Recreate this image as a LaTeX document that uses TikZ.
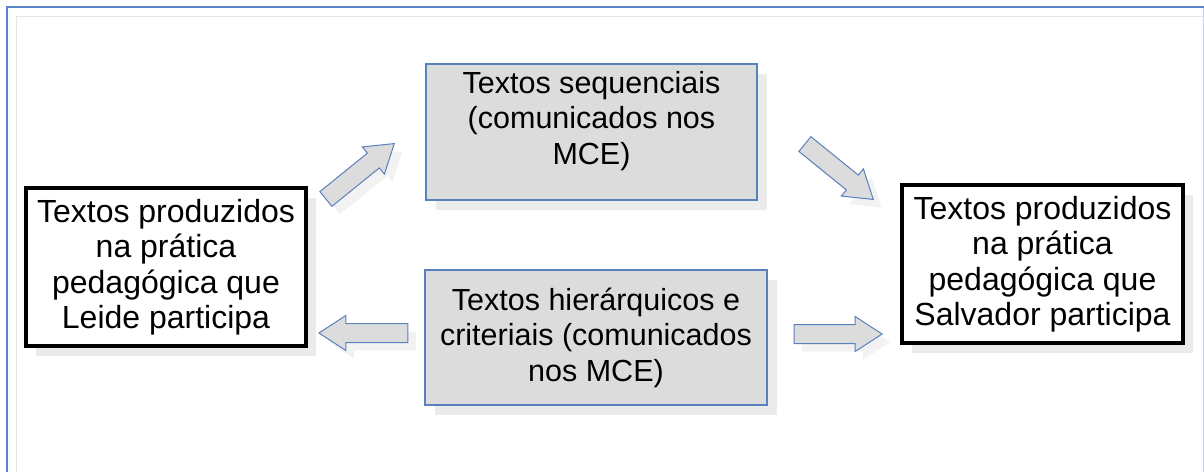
\documentclass[tikz,border=0pt]{standalone}
\usepackage{fontspec}
\setmainfont{Liberation Sans}
\usetikzlibrary{shapes.arrows,shadows,positioning}
\definecolor{frameblue}{HTML}{5A84CC}
\definecolor{boxgray}{HTML}{DCDCDC}
\definecolor{edgeblue}{HTML}{5B80BE}
\newcommand{\boxfont}{\fontsize{30.5}{35.5}\selectfont}
\newcommand{\bigboxfont}{\fontsize{32}{35.5}\selectfont}

\begin{document}
\begin{tikzpicture}[
    x=1pt, y=-1pt,
    textbox/.style={rectangle, draw, line width=3.5pt, fill=white, align=center, font=\bigboxfont, inner sep=0pt,
        drop shadow={shadow xshift=10pt, shadow yshift=-10pt, fill=black!8, opacity=1}},
    mcebox/.style={rectangle, draw=edgeblue, line width=1.2pt, fill=boxgray, align=center, font=\boxfont, inner sep=0pt,
        drop shadow={shadow xshift=10pt, shadow yshift=-10pt, fill=black!8, opacity=1}},
    blockarrow/.style={single arrow, draw=edgeblue, line width=1pt, fill=boxgray, minimum height=88pt,
        inner xsep=0pt, inner ysep=9pt, text height=0pt, text depth=0pt,
        single arrow head extend=8pt, single arrow tip angle=66, anchor=tip,
        drop shadow={shadow xshift=8pt, shadow yshift=-8pt, fill=black!5, opacity=1}}
]
\useasboundingbox (0,0) rectangle (1204,471);

% Frame
\draw[black!10, line width=1pt] (16,480) -- (16,16) -- (1210,16);
\draw[frameblue!35, line width=1pt] (1203,7) -- (1203,480);
\draw[frameblue, line width=1.5pt] (7,480) -- (7,7) -- (1210,7);

% Blocks
\node[textbox, minimum width=280pt, minimum height=158pt] (leide) at (166,267)
    {Textos produzidos\\na prática\\pedagógica que\\Leide participa};
\node[textbox, minimum width=281pt, minimum height=158pt] (salvador) at (1042.5,264)
    {Textos produzidos\\na prática\\pedagógica que\\Salvador participa};
\node[mcebox, minimum width=331pt, minimum height=136pt,
    label={[font=\boxfont, align=center, yshift=11pt]center:{Textos sequenciais\\(comunicados nos\\MCE)}}] (seq) at (591.5,132) {};
\node[mcebox, minimum width=342pt, minimum height=135pt] (hier) at (596,337.5)
    {Textos hierárquicos e\\criteriais (comunicados\\nos MCE)};

% Arrows (placed by their tips)
\node[blockarrow, rotate=39] (toseq) at (395,143) {};
\node[blockarrow, rotate=-39] (fromseq) at (874,200) {};
\node[blockarrow, rotate=180, minimum height=89pt] (toleide) at (318,333) {};
\node[blockarrow] (tosalvador) at (883,334) {};

\end{tikzpicture}
\end{document}
